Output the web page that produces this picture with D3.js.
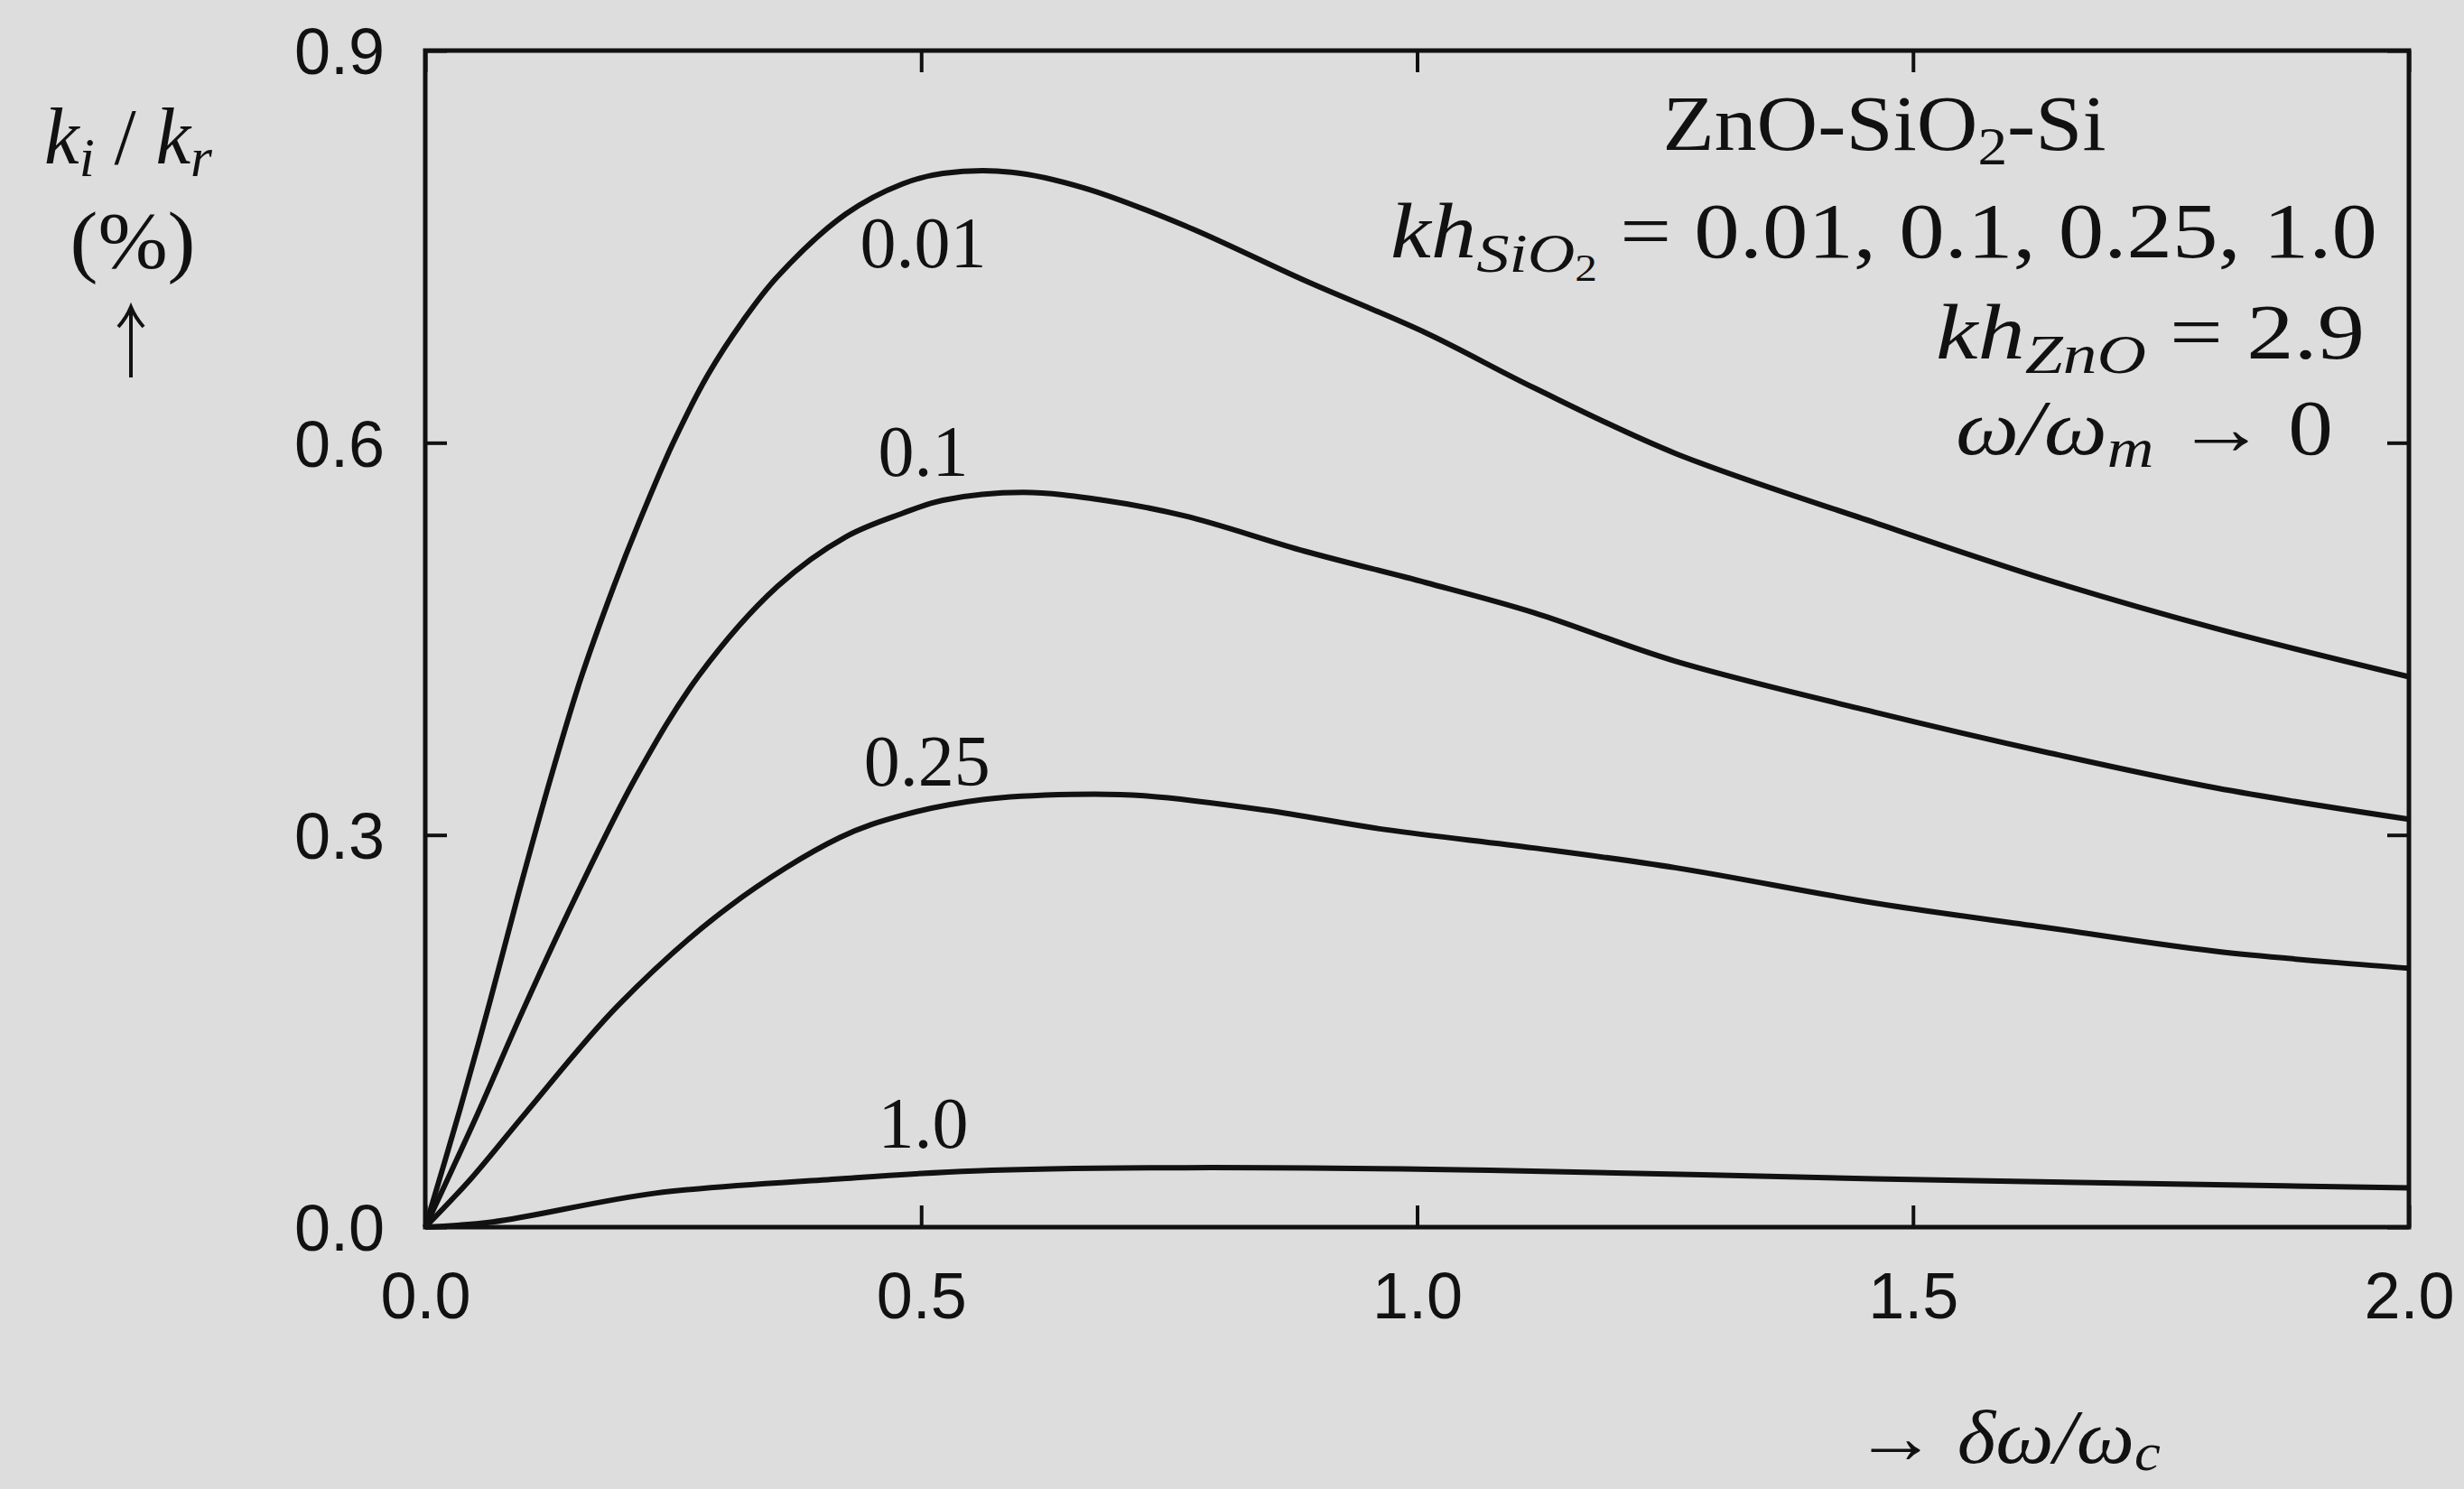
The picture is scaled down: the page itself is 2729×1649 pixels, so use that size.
<!DOCTYPE html>
<html>
<head>
<meta charset="utf-8">
<script src="https://cdn.jsdelivr.net/npm/d3@7"></script>
<style>
  html, body { margin: 0; padding: 0; background: #dddddd; }
  svg { display: block; }
  .tick-label { font-family: "Liberation Sans", Arial, sans-serif; font-size: 72px; fill: #111; }
  .math { font-family: "Liberation Serif", "Times New Roman", serif; fill: #111; }
</style>
</head>
<body>
<div id="chart"></div>
<script>
// axis ticks
const xTicks = [0.0, 0.5, 1.0, 1.5, 2.0];
const yTicks = [0.0, 0.3, 0.6, 0.9];

// kh_SiO2 parameter for each curve
const khValues = ["0.01", "0.1", "0.25", "1.0"];

// curve: [δω/ωc, ki/kr (%)]
const curve001 = [
    [0, 0], [0.035, 0.090], [0.065, 0.172], [0.094, 0.255], [0.127, 0.345], [0.157, 0.420],
    [0.190, 0.490], [0.216, 0.540], [0.250, 0.600], [0.285, 0.652], [0.320, 0.693],
    [0.355, 0.727], [0.424, 0.775], [0.481, 0.798], [0.522, 0.806], [0.591, 0.807],
    [0.664, 0.795], [0.766, 0.766], [0.887, 0.724], [1.009, 0.684], [1.118, 0.642],
    [1.260, 0.592], [1.461, 0.539], [1.636, 0.495], [1.805, 0.458], [2.0, 0.421]
];
const curve01 = [
    [0, 0], [0.050, 0.082], [0.098, 0.165], [0.150, 0.250], [0.213, 0.345], [0.276, 0.422],
    [0.355, 0.490], [0.424, 0.528], [0.481, 0.546], [0.522, 0.556], [0.603, 0.562],
    [0.684, 0.556], [0.766, 0.544], [0.887, 0.517], [1.009, 0.493], [1.118, 0.470],
    [1.260, 0.433], [1.461, 0.394], [1.636, 0.363], [1.805, 0.336], [2.0, 0.312]
];
const curve025 = [
    [0, 0], [0.046, 0.037], [0.102, 0.088], [0.195, 0.170], [0.306, 0.245], [0.418, 0.298],
    [0.481, 0.315], [0.562, 0.327], [0.652, 0.331], [0.725, 0.330], [0.847, 0.319],
    [0.969, 0.304], [1.118, 0.290], [1.260, 0.275], [1.461, 0.248], [1.636, 0.229],
    [1.805, 0.211], [2.0, 0.198]
];
const curve10 = [
    [0, 0], [0.068, 0.004], [0.232, 0.026], [0.418, 0.037], [0.554, 0.043], [0.766, 0.0455],
    [1.073, 0.0435], [1.461, 0.037], [1.805, 0.0325], [2.0, 0.030]
];

// where the curve labels sit, in data units (centre x, baseline y)
const labelX = [0.502, 0.502, 0.506, 0.502];
const labelY = [0.734, 0.575, 0.338, 0.061];

const curves = [curve001, curve01, curve025, curve10];

const W = 2729, H = 1649;
const margin = { top: 56, right: 61, bottom: 290, left: 471 };
const width = W - margin.left - margin.right;
const height = H - margin.top - margin.bottom;

const svg = d3.select("#chart").append("svg")
    .attr("width", W)
    .attr("height", H);

svg.append("rect").attr("width", W).attr("height", H).attr("fill", "#dddddd");

const g = svg.append("g").attr("transform", `translate(${margin.left},${margin.top})`);

const x = d3.scaleLinear().domain([0, 2]).range([0, width]);
const y = d3.scaleLinear().domain([0, 0.9]).range([height, 0]);

const fmt = d3.format(".1f");
const tickLen = 24;

// bottom axis with labels
const axisB = g.append("g")
    .attr("transform", `translate(0,${height})`)
    .call(d3.axisBottom(x).tickValues(xTicks).tickSizeInner(-tickLen).tickSizeOuter(0)
        .tickPadding(50).tickFormat(fmt));
// left axis with labels
const axisL = g.append("g")
    .call(d3.axisLeft(y).tickValues(yTicks).tickSizeInner(-tickLen).tickSizeOuter(0)
        .tickPadding(45).tickFormat(fmt));
// mirrored ticks on top and right
const axisT = g.append("g")
    .call(d3.axisTop(x).tickValues(xTicks).tickSizeInner(-tickLen).tickSizeOuter(0).tickFormat(""));
const axisR = g.append("g")
    .attr("transform", `translate(${width},0)`)
    .call(d3.axisRight(y).tickValues(yTicks).tickSizeInner(-tickLen).tickSizeOuter(0).tickFormat(""));

[axisB, axisL, axisT, axisR].forEach(a => {
    a.attr("font-size", null).attr("font-family", null);
    a.select(".domain").remove();
    a.selectAll(".tick line").attr("stroke", "#111").attr("stroke-width", 4);
    a.selectAll(".tick text").attr("class", "tick-label");
});
axisL.selectAll(".tick text").attr("dy", "0.36em");

// frame
g.append("rect")
    .attr("width", width)
    .attr("height", height)
    .attr("fill", "none")
    .attr("stroke", "#111")
    .attr("stroke-width", 5);

// curves
const line = d3.line()
    .x(d => x(d[0]))
    .y(d => y(d[1]))
    .curve(d3.curveCatmullRom.alpha(0.5));

g.selectAll(".curve")
    .data(curves)
    .enter()
    .append("path")
    .attr("class", "curve")
    .attr("d", line)
    .attr("fill", "none")
    .attr("stroke", "#111")
    .attr("stroke-width", 6)
    .attr("stroke-linejoin", "round");

// curve labels
g.selectAll(".curve-label")
    .data(khValues)
    .enter()
    .append("text")
    .attr("class", "curve-label math")
    .attr("x", (d, i) => x(labelX[i]))
    .attr("y", (d, i) => y(labelY[i]))
    .attr("text-anchor", "middle")
    .attr("font-size", 80)
    .text(d => d);

// stretch a text to the width it has in the original (Computer Modern is wider than Times)
function fit(t, len) {
    t.attr("textLength", len).attr("lengthAdjust", "spacingAndGlyphs");
}

// annotation block, top right
const note = svg.append("g").attr("class", "math").attr("font-size", 86);

note.append("text")
    .attr("x", 2087).attr("y", 166)
    .attr("text-anchor", "middle")
    .call(t => {
        t.append("tspan").text("ZnO-SiO");
        t.append("tspan").attr("font-size", 60).attr("dy", 16).text("2");
        t.append("tspan").attr("dy", -16).text("-Si");
    })
    .call(fit, 491);

note.append("text")
    .attr("x", 2633).attr("y", 285)
    .attr("text-anchor", "end")
    .call(t => {
        t.append("tspan").attr("font-style", "italic").text("kh");
        t.append("tspan").attr("font-style", "italic").attr("font-size", 62).attr("dy", 16).text("SiO");
        t.append("tspan").attr("font-size", 42).attr("dy", 10).text("2");
        t.append("tspan").attr("dy", -26).text(" = " + khValues.join(", "));
    })
    .call(fit, 1093);

note.append("text")
    .attr("x", 2619).attr("y", 397)
    .attr("text-anchor", "end")
    .call(t => {
        t.append("tspan").attr("font-style", "italic").text("kh");
        t.append("tspan").attr("font-style", "italic").attr("font-size", 62).attr("dy", 16).text("ZnO");
        t.append("tspan").attr("dy", -16).text(" = 2.9");
    })
    .call(fit, 475);

note.append("text")
    .attr("x", 2584).attr("y", 503)
    .attr("text-anchor", "end")
    .call(t => {
        t.append("tspan").attr("font-style", "italic").text("ω/ω");
        t.append("tspan").attr("font-style", "italic").attr("font-size", 62).attr("dy", 14).text("m");
        t.append("tspan").attr("dy", -14).text(" → 0");
    })
    .call(fit, 418);

// y axis title
const yTitle = svg.append("g").attr("class", "math").attr("font-size", 88).attr("text-anchor", "middle");
yTitle.append("text")
    .attr("x", 142).attr("y", 181)
    .call(t => {
        t.append("tspan").attr("font-style", "italic").text("k");
        t.append("tspan").attr("font-style", "italic").attr("font-size", 62).attr("dy", 14).text("i");
        t.append("tspan").attr("dy", -14).text(" / ");
        t.append("tspan").attr("font-style", "italic").text("k");
        t.append("tspan").attr("font-style", "italic").attr("font-size", 62).attr("dy", 14).text("r");
    })
    .call(fit, 186);
yTitle.append("text").attr("x", 147).attr("y", 296).text("(%)").call(fit, 139);

// vertical arrow under the unit
const arrow = svg.append("g").attr("stroke", "#111").attr("stroke-width", 4).attr("fill", "none");
arrow.append("line").attr("x1", 145).attr("x2", 145).attr("y1", 418).attr("y2", 342);
arrow.append("path").attr("d", "M131,362 Q140,352 145,340 Q150,352 159,362");

// x axis title
svg.append("text")
    .attr("class", "math")
    .attr("x", 2054).attr("y", 1620)
    .attr("font-size", 84)
    .call(t => {
        t.append("tspan").text("→ ");
        t.append("tspan").attr("font-style", "italic").text("δω/ω");
        t.append("tspan").attr("font-style", "italic").attr("font-size", 60).attr("dy", 8).text("c");
    })
    .call(fit, 339);
</script>
</body>
</html>
